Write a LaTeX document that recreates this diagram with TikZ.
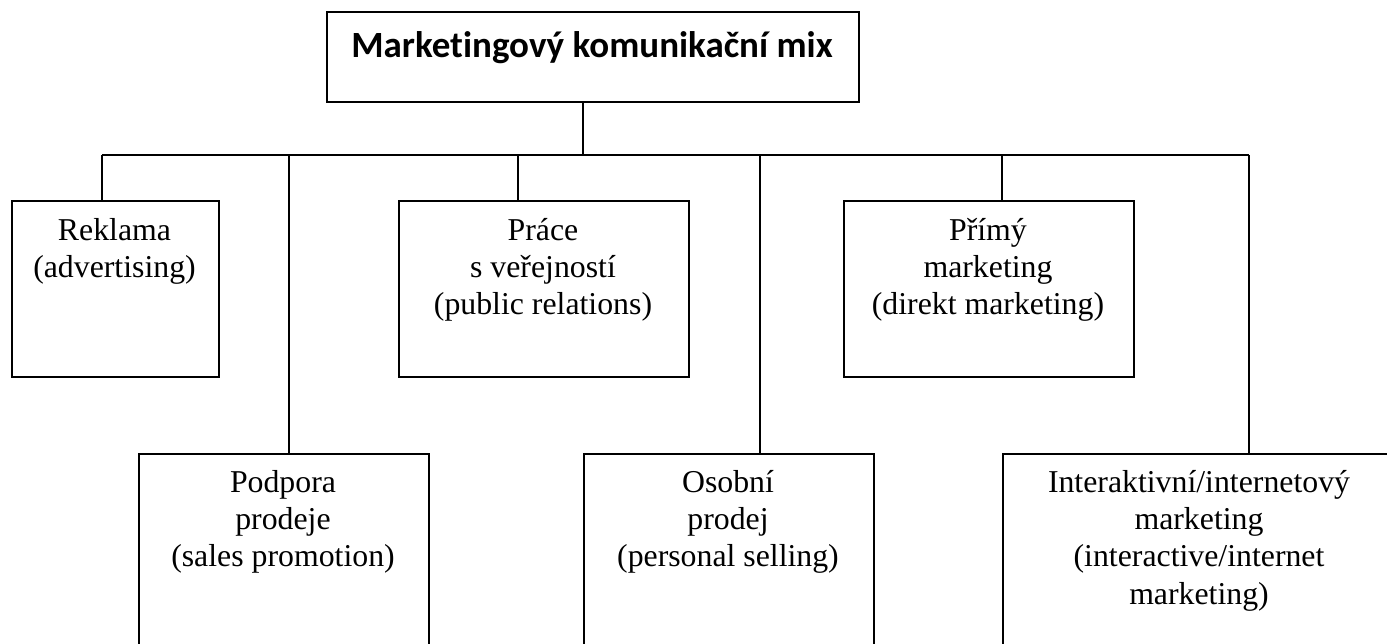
\documentclass[tikz,border=0pt]{standalone}
\usepackage{fontspec}
\setmainfont{Liberation Serif}
\newfontfamily\titlefont[Ligatures=NoCommon]{Carlito}
\begin{document}
\begin{tikzpicture}[x=1pt,y=-1pt,
  boxst/.style={draw=black, line width=1.7pt, fill=none, inner sep=0pt, anchor=north west},
  txt/.style={inner sep=0pt, anchor=base, font=\fontsize{31.8}{37.4}\selectfont},
  conn/.style={draw=black, line width=1.7pt}]
\useasboundingbox (0,0) rectangle (1387,643);
\clip (0,0) rectangle (1387,643);
\fill[white] (0,0) rectangle (1387,643);
% top
\node[boxst, minimum width=532pt, minimum height=90pt] (top) at (326,11) {};
\node[inner sep=0pt, anchor=base, font=\titlefont\bfseries\fontsize{37}{40}\selectfont] (topT) at (592,57) {Marketingový komunikační mix};
% upper row
\node[boxst, minimum width=207pt, minimum height=176pt] (rek) at (11,200) {};
\node[txt] (rekT) at (114.5,240) {\parbox[t]{207pt}{\centering Reklama\\(advertising)}};
\node[boxst, minimum width=290pt, minimum height=176pt] (pra) at (398,200) {};
\node[txt] (praT) at (543,240) {\parbox[t]{290pt}{\centering Práce\\s veřejností\\(public relations)}};
\node[boxst, minimum width=290pt, minimum height=176pt] (pri) at (843,200) {};
\node[txt] (priT) at (988,240) {\parbox[t]{290pt}{\centering Přímý\\marketing\\(direkt marketing)}};
% lower row
\node[boxst, minimum width=290pt, minimum height=240pt] (pod) at (138,453) {};
\node[txt] (podT) at (283,492) {\parbox[t]{290pt}{\centering Podpora\\prodeje\\(sales promotion)}};
\node[boxst, minimum width=290pt, minimum height=240pt] (oso) at (583,453) {};
\node[txt] (osoT) at (728,492) {\parbox[t]{290pt}{\centering Osobní\\prodej\\(personal selling)}};
\node[boxst, minimum width=394pt, minimum height=240pt] (int) at (1002,453) {};
\node[txt] (intT) at (1199,492) {\parbox[t]{394pt}{\centering Interaktivní/internetový\\marketing\\(interactive/internet\\marketing)}};
% bus
\coordinate (root) at (583,101);
\coordinate (busL) at (102,155);
\coordinate (busR) at (1249,155);
\coordinate (b2) at (289,155);
\coordinate (b3) at (518,155);
\coordinate (b4) at (760,155);
\coordinate (b5) at (1002,155);
\draw[conn] (root) -- (root |- busL);
\draw[conn] (busL) -- (busR);
\draw[conn] (busL) -- (busL |- rek.north);
\draw[conn] (b2) -- (b2 |- pod.north);
\draw[conn] (b3) -- (b3 |- pra.north);
\draw[conn] (b4) -- (b4 |- oso.north);
\draw[conn] (b5) -- (b5 |- pri.north);
\draw[conn] (busR) -- (busR |- int.north);
\end{tikzpicture}
\end{document}
